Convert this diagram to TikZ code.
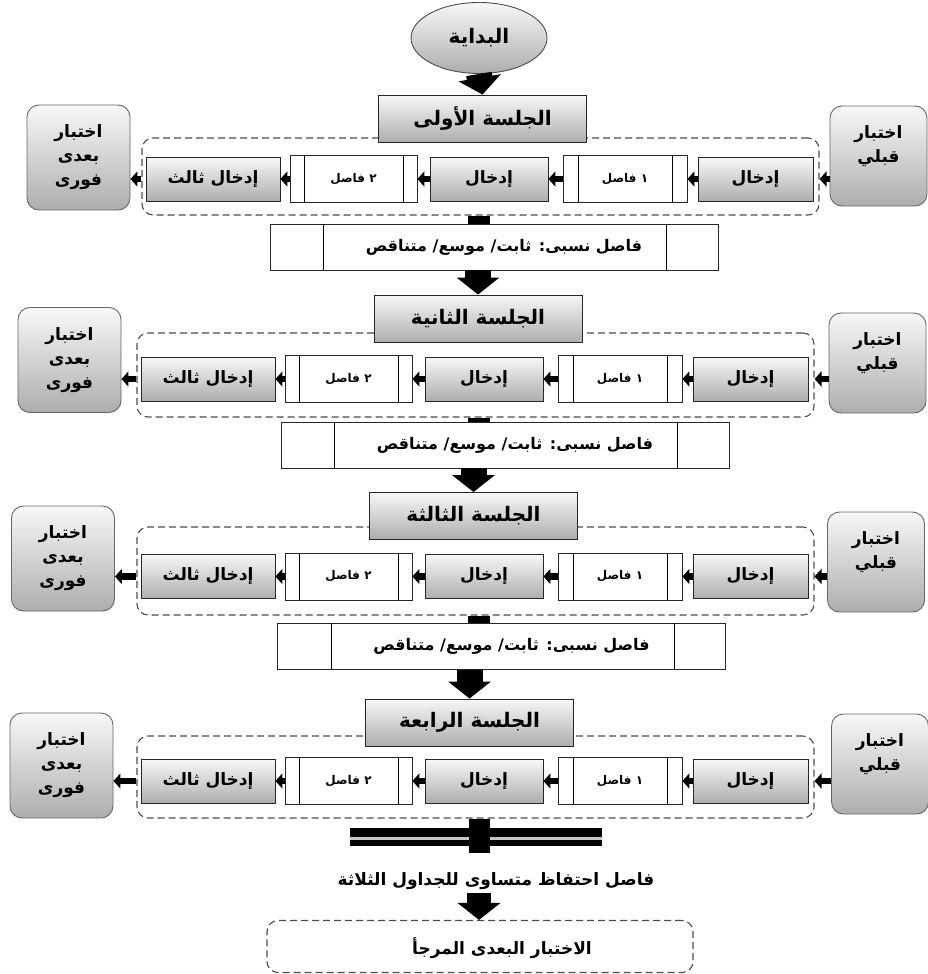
\documentclass[tikz,border=0pt]{standalone}
\usepackage{fontspec}
\newfontfamily\arabicfont[Script=Arabic]{DejaVu Sans}
\TeXXeTstate=1
\usetikzlibrary{arrows.meta,shapes.geometric,fit,calc}
% right-to-left run of Arabic words
\newcommand\ar[1]{\beginR#1\endR}

\tikzset{
  grad/.style={top color=gray!6, bottom color=gray!64},
  sbox/.style={grad, draw=black!85, line width=0.9pt, inner sep=0pt,
    minimum width=208pt, minimum height=47pt,
    font=\arabicfont\bfseries\fontsize{20}{24}\selectfont},
  inbox/.style={grad, draw=black!85, line width=0.8pt, inner sep=0pt,
    minimum height=44pt, font=\arabicfont\bfseries\fontsize{17}{20}\selectfont},
  gapbox/.style={draw=black!85, fill=white, line width=0.8pt, inner sep=0pt,
    minimum height=47pt, font=\arabicfont\bfseries\fontsize{12}{14}\selectfont},
  testbox/.style={grad, rounded corners=12pt, draw=black!60, line width=0.9pt,
    align=center, inner sep=0pt,
    font=\arabicfont\bfseries\fontsize{17}{24}\selectfont},
  dashframe/.style={draw=black!70, dash pattern=on 7pt off 4pt, line width=1.1pt,
    rounded corners=11pt, inner sep=0pt},
  nbox/.style={draw=black!85, fill=white, line width=0.9pt, inner sep=0pt,
    minimum width=448pt, minimum height=46pt,
    font=\arabicfont\bfseries\fontsize{16}{19}\selectfont},
  link/.style={line width=6.5pt, -{Triangle[length=7pt,width=15pt]}},
  bigarrow/.style={line width=26pt, -{Triangle[length=17pt,width=42pt]}},
  stubline/.style={line width=22pt},
}

% one session: title, pre-test, the five steps, post-test
% #1 index, #2 title, #3 title centre, #4 frame top, #5 frame bottom,
% #6 row centre y, #7 row x shift, #8 post-test centre, #9 pre-test centre
\newcommand\sessionblock[9]{
  \begin{scope}[xshift=#7]
    \node[dashframe, fit={(137,#4) (814,#5)}] (d#1) {};
    \node[inbox, minimum width=115pt] (ia#1) at (750.5,#6) {إدخال};
    \node[gapbox, minimum width=124pt] (ga#1) at (620,#6) {\ar{١ فاصل}};
    \node[inbox, minimum width=118pt] (ib#1) at (484,#6) {إدخال};
    \node[gapbox, minimum width=127pt] (gb#1) at (348.5,#6) {\ar{٢ فاصل}};
    \node[inbox, minimum width=134pt] (ic#1) at (208,#6) {\ar{إدخال ثالث}};
  \end{scope}
  \draw[line width=0.8pt] ($(ga#1.north west)+(16,0)$) -- ($(ga#1.south west)+(16,0)$)
                          ($(ga#1.north east)+(-15,0)$) -- ($(ga#1.south east)+(-15,0)$);
  \draw[line width=0.8pt] ($(gb#1.north west)+(15,0)$) -- ($(gb#1.south west)+(15,0)$)
                          ($(gb#1.north east)+(-14,0)$) -- ($(gb#1.south east)+(-14,0)$);
  \node[sbox] (s#1) at (#3) {#2};
  \node[testbox, minimum width=103pt, minimum height=105pt] (post#1) at (#8)
    {اختبار\\بعدى\\فورى};
  \node[testbox, minimum width=97pt, minimum height=100pt] (pre#1) at (#9)
    {اختبار\\قبلي\\\mbox{}};
  \draw[link] (ia#1.center -| pre#1.west) -- (ia#1.center -| d#1.east);
  \draw[link] (ia#1.west) -- (ga#1.east);
  \draw[link] (ga#1.west) -- (ib#1.east);
  \draw[link] (ib#1.west) -- (gb#1.east);
  \draw[link] (gb#1.west) -- (ic#1.east);
  \draw[link] (ic#1.center -| d#1.west) -- (ic#1.center -| post#1.east);
}

% spacing box between sessions
\newcommand\spacing[3]{
  \node[nbox] (n#1) at (#2,#3) {\kern20pt\ar{فاصل نسبى\kern0pt: ثابت\kern0pt/ موسع\kern0pt/ متناقص}};
  \draw[line width=0.9pt] ($(n#1.north west)+(54,0)$) -- ($(n#1.south west)+(54,0)$)
                          ($(n#1.north east)+(-52,0)$) -- ($(n#1.south east)+(-52,0)$);
}

\begin{document}
\begin{tikzpicture}[x=1pt,y=-1pt]
  \useasboundingbox (0,0) rectangle (927,974);
  \coordinate (stub) at (479,0);

  \node[ellipse, grad, draw=black!70, line width=0.9pt, minimum width=136pt,
        minimum height=71pt, inner sep=0pt,
        font=\arabicfont\bfseries\fontsize{20}{24}\selectfont] (start) at (479,38) {البداية};

  \sessionblock{1}{\ar{الجلسة الأولى}}{482.5,118.5}{138}{215}{179}{5}{78.5,157.5}{878.5,156}
  \spacing{1}{494}{247}
  \sessionblock{2}{\ar{الجلسة الثانية}}{478,318.5}{333}{417}{379}{0}{69.5,360}{877.5,363}
  \spacing{2}{505}{445}
  \sessionblock{3}{\ar{الجلسة الثالثة}}{473.5,516}{527}{615}{576.5}{0}{63,558.5}{876,562}
  \spacing{3}{501.5}{646.5}
  \sessionblock{4}{\ar{الجلسة الرابعة}}{469.5,722.5}{736}{818}{781}{0}{61.5,765.5}{880,764}

  \draw[bigarrow] (start.south) -- (s1.north);
  \draw[stubline] (d1.south -| stub) -- (n1.north -| stub);
  \draw[bigarrow] (s2.north |- n1.south) -- (s2.north);
  \draw[stubline] (d2.south -| stub) -- (n2.north -| stub);
  \draw[bigarrow] (s3.north |- n2.south) -- (s3.north);
  \draw[stubline] (d3.south -| stub) -- (n3.north -| stub);
  \draw[bigarrow] (s4.north |- n3.south) -- (s4.north);

  % double bar closing the four sessions
  \fill[black] (350,828) rectangle (602,837);
  \fill[gray!45] (350,837) rectangle (602,840);
  \fill[black] (350,840) rectangle (602,846);
  \coordinate (barend) at (479,853);
  \draw[line width=21pt] (d4.south -| stub) -- (barend);

  \node[font=\arabicfont\bfseries\fontsize{17}{20}\selectfont] (keep) at (496,881)
    {\ar{فاصل احتفاظ متساوى للجداول الثلاثة}};
  \node[dashframe, minimum width=426pt, minimum height=52pt] (final) at (480,946.5) {};
  \node[font=\arabicfont\bfseries\fontsize{17}{20}\selectfont] (finaltxt) at (502,948)
    {\ar{الاختبار البعدى المرجأ}};
  \draw[bigarrow, line width=24pt] (keep.south -| stub) -- (final.north -| stub);
\end{tikzpicture}
\end{document}
